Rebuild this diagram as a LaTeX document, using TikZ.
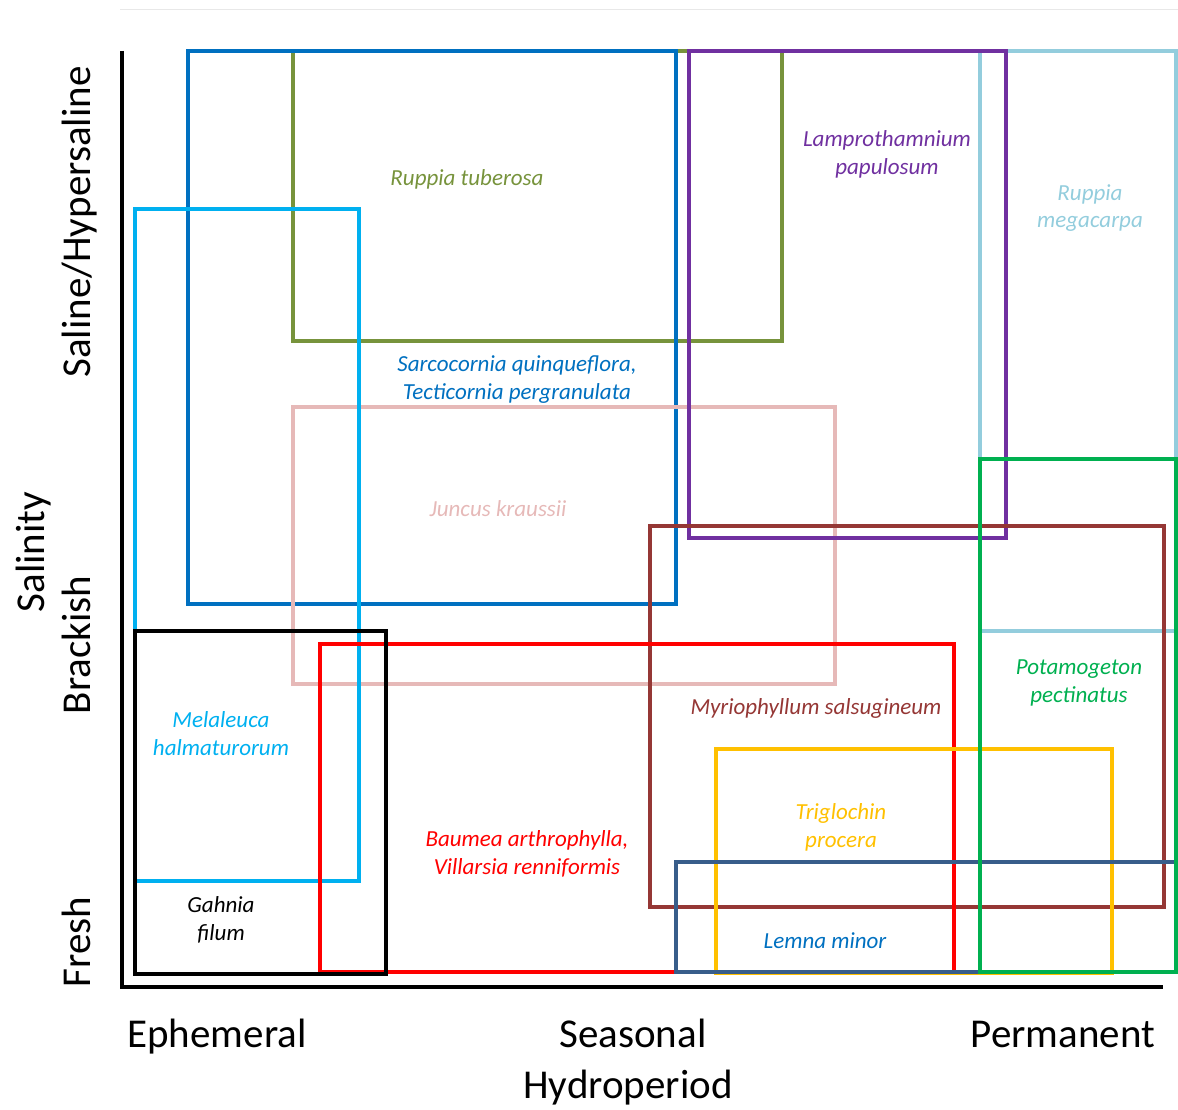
\documentclass[tikz,border=0pt]{standalone}
\usepackage{fontspec}
\setmainfont{Carlito}
\definecolor{cSarco}{HTML}{0070C0}
\definecolor{cOlive}{HTML}{77933C}
\definecolor{cPurple}{HTML}{7030A0}
\definecolor{cLight}{HTML}{93CDDD}
\definecolor{cCyan}{HTML}{00B0F0}
\definecolor{cPink}{HTML}{E6B9B8}
\definecolor{cRed}{HTML}{FF0000}
\definecolor{cBrown}{HTML}{953735}
\definecolor{cGreen}{HTML}{00B050}
\definecolor{cYellow}{HTML}{FFC000}
\definecolor{cSlate}{HTML}{385D8A}
\begin{document}
\begin{tikzpicture}[x=1pt,y=-1pt,
  box/.style={draw=#1,line width=4.4pt},
  sp/.style={text=#1,font=\fontsize{23}{28}\selectfont\itshape,align=center,anchor=base,inner sep=0pt},
  ax/.style={font=\fontsize{41}{48}\selectfont,anchor=base,inner sep=0pt}]
\useasboundingbox (0,0) rectangle (1178,1110);
\draw[line width=1pt,color=black!9] (120,9.5) -- (1178,9.5);
% rectangles
\draw[box=cLight] (980,51) rectangle (1176,631);
\draw[box=cOlive] (293,51) rectangle (782,341);
\draw[box=cSarco] (188,51) rectangle (676,604);
\draw[box=cPink] (293,407) rectangle (835,684);
\draw[box=cPurple] (689,51) rectangle (1006,538);
\draw[box=cBrown] (650,526) rectangle (1164,907);
\draw[box=cCyan] (135,209) rectangle (359,881);
\draw[box=cRed] (320,644) rectangle (954,972);
\draw[box=cYellow] (716,749) rectangle (1112,973);
\draw[box=cSlate] (676,862) rectangle (1176,972);
\draw[box=cGreen] (980,459) rectangle (1176,972);
\draw[box=black] (135,631) rectangle (386,974);
% axes
\coordinate (ytop) at (122,51);
\coordinate (origin) at (122,987);
\coordinate (xend) at (1163,987);
\draw[line width=4.4pt] (ytop) -- (origin) -- (xend);
% species labels (base = baseline of last line)
\node[sp=cOlive] (rt) at (467,186) {Ruppia tuberosa};
\node[sp=cPurple] (lp) at (887,175) {Lamprothamnium\\papulosum};
\node[sp=cLight] (rm) at (1090,228) {Ruppia\\megacarpa};
\node[sp=cSarco] (sq) at (517,399) {Sarcocornia quinqueflora,\\Tecticornia pergranulata};
\node[sp=cPink] (jk) at (498,516) {Juncus kraussii};
\node[sp=cCyan] (mh) at (221,755) {Melaleuca\\halmaturorum};
\node[sp=black] (gf) at (221,940) {Gahnia\\filum};
\node[sp=cRed] (ba) at (527,874) {Baumea arthrophylla,\\Villarsia renniformis};
\node[sp=cBrown] (ms) at (816,714) {Myriophyllum salsugineum};
\node[sp=cGreen] (pp) at (1079,702) {Potamogeton\\pectinatus};
\node[sp=cYellow] (tp) at (841,847) {Triglochin\\procera};
\node[sp=cSarco] (lm) at (825,948) {Lemna minor};
% axis labels
\node[ax] (eph) at (217,1047) {Ephemeral};
\node[ax] (sea) at (633,1047) {Seasonal};
\node[ax] (per) at (1063,1047) {Permanent};
\node[ax] (hyd) at (628,1098) {Hydroperiod};
\node[ax,rotate=90] (sal) at (90,222) {Saline/Hypersaline};
\node[ax,rotate=90] (bra) at (90,645) {Brackish};
\node[ax,rotate=90] (fre) at (90,942) {Fresh};
\node[ax,rotate=90] (sly) at (44,552) {Salinity};
\end{tikzpicture}
\end{document}
